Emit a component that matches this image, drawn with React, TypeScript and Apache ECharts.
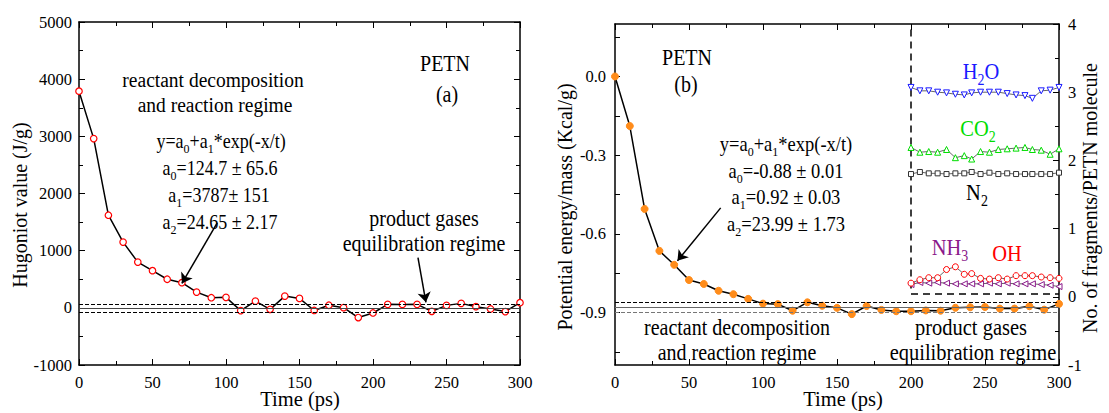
import React, { useEffect, useRef } from "react";
import * as echarts from "echarts";

const FF = "Liberation Serif";

// Panel (a): Hugoniot value vs time
const times = [0, 10, 20, 30, 40, 50, 60, 70, 80, 90, 100, 110, 120, 130, 140, 150, 160, 170, 180, 190, 200, 210, 220, 230, 240, 250, 260, 270, 280, 290, 300];
const hugoniot = [3790, 2960, 1620, 1150, 800, 650, 500, 440, 275, 177, 183, -49, 118, -26, 205, 165, -46, 45, 3, -170, -90, 61, 60, 61, -61, 43, 78, 20, -20, -66, 90];
const hugoniotRefs = [70, 0, -80];

// Panel (b): potential energy vs time
const energy = [0, -0.189, -0.505, -0.665, -0.718, -0.776, -0.791, -0.817, -0.83, -0.848, -0.866, -0.868, -0.893, -0.861, -0.874, -0.882, -0.906, -0.875, -0.89, -0.895, -0.895, -0.892, -0.893, -0.882, -0.88, -0.879, -0.885, -0.885, -0.876, -0.889, -0.867];
const energyRefs = [-0.86, -0.88, -0.9];
const energyTicks = [-0.9, -0.6, -0.3, 0];
const energyMinorTicks = [-1.05, -0.9, -0.75, -0.6, -0.45, -0.3, -0.15, 0, 0.15];

// Inset: fragments per PETN molecule
const insetTimes = [200, 206, 212, 218, 224, 230, 236, 241, 247, 253, 259, 265, 271, 277, 282, 288, 294, 300];
const h2o = [3.07, 3.02, 3.02, 3.0, 2.99, 2.97, 2.96, 2.99, 3.0, 3.0, 3.0, 2.98, 2.96, 2.95, 2.91, 3.02, 3.03, 3.07];
const co2 = [2.19, 2.12, 2.13, 2.12, 2.16, 2.04, 2.07, 2.02, 2.13, 2.12, 2.16, 2.17, 2.18, 2.19, 2.16, 2.15, 2.09, 2.17];
const n2 = [1.8, 1.83, 1.81, 1.81, 1.8, 1.81, 1.81, 1.83, 1.8, 1.82, 1.8, 1.81, 1.8, 1.8, 1.8, 1.8, 1.8, 1.82];
const nh3 = [0.18, 0.21, 0.2, 0.21, 0.2, 0.19, 0.19, 0.19, 0.19, 0.2, 0.19, 0.2, 0.19, 0.19, 0.19, 0.18, 0.17, 0.15];
const oh = [0.2, 0.25, 0.28, 0.28, 0.4, 0.44, 0.33, 0.34, 0.27, 0.26, 0.28, 0.26, 0.31, 0.31, 0.31, 0.29, 0.28, 0.27];

const zip = (xs: number[], ys: number[]) => xs.map((x, i) => [x, ys[i]]);

function rich(s: string) {
  let out = "";
  let buf = "";
  for (let i = 0; i < s.length; i++) {
    if (s[i] === "_") {
      if (buf) { out += `{n|${buf}}`; buf = ""; }
      out += `{s|${s[i + 1]}}`;
      i++;
    } else buf += s[i];
  }
  if (buf) out += `{n|${buf}}`;
  return out;
}

function txt(x: number, y: number, s: string, color = "#000", size = 20, rotation = 0, scaleY = 1.12) {
  const ss = Math.round(size * 0.66);
  const hasSub = s.indexOf("_") >= 0;
  const lh = hasSub ? size + 8 : size + 2;
  return {
    type: "text",
    x,
    y,
    rotation,
    scaleY,
    silent: true,
    style: {
      text: rich(s),
      align: "center",
      verticalAlign: "middle",
      textAlign: "center",
      textVerticalAlign: "middle",
      rich: {
        n: { fontFamily: FF, fontSize: size, lineHeight: lh, fill: color, color, verticalAlign: "middle" },
        s: { fontFamily: FF, fontSize: ss, lineHeight: ss + 2, fill: color, color, verticalAlign: "bottom" },
      },
    },
  };
}

const axisLine = { onZero: false, lineStyle: { color: "#000", width: 1.5 } };
const tickStyle = { color: "#000", width: 1 };
const labelStyle = { fontFamily: FF, fontSize: 16.5, color: "#000" };
const plain = (v: number) => String(v);

function xAxes(grid: number) {
  const base = {
    gridIndex: grid,
    type: "value",
    min: 0,
    max: 300,
    interval: 50,
    axisLine,
    axisTick: { inside: true, length: 6, lineStyle: tickStyle },
    minorTick: { show: true, splitNumber: 2, length: 4, lineStyle: tickStyle },
    splitLine: { show: false },
  };
  return [
    { ...base, position: "bottom", axisLabel: { ...labelStyle, margin: 9, formatter: plain } },
    { ...base, position: "top", axisLabel: { show: false } },
  ];
}

export default function App() {
  const ref = useRef<HTMLDivElement>(null);
  useEffect(() => {
    document.body.style.margin = "0";
    const chart = echarts.init(ref.current!, null, { renderer: "svg" });
    const dashBlack = { type: "dashed", color: "#000", width: 1 };
    const hMarks = [
      { yAxis: hugoniotRefs[0], lineStyle: dashBlack },
      { yAxis: hugoniotRefs[1], lineStyle: { type: "solid", color: "#444", width: 1 } },
      { yAxis: hugoniotRefs[2], lineStyle: dashBlack },
      [{ coord: [94, 1487], symbol: "none" }, { coord: [70, 426], symbol: "arrow", symbolSize: 10 }],
      [{ coord: [230.6, 878], symbol: "none" }, { coord: [236, 96], symbol: "arrow", symbolSize: 10 }],
    ];
    const eMarks = [
      { yAxis: energyRefs[0], lineStyle: dashBlack },
      { yAxis: energyRefs[1], lineStyle: { type: "solid", color: "#666", width: 1 } },
      { yAxis: energyRefs[2], lineStyle: { type: "dashed", color: "#777", width: 1 } },
      [{ coord: [71.4, -0.501], symbol: "none" }, { coord: [42.2, -0.703], symbol: "arrow", symbolSize: 10 }],
    ];
    const boxMarks = [
      [{ coord: [200, 3.92] }, { coord: [200, 0.05] }],
      [{ coord: [200, 0.05] }, { coord: [300, 0.05] }],
    ];
    const inset = (name: string, ys: number[], color: string, symbol: string, rot = 0, extra: any = {}) => ({
      name,
      type: "line",
      xAxisIndex: 2,
      yAxisIndex: 3,
      data: zip(insetTimes, ys),
      symbol,
      symbolRotate: rot,
      symbolSize: 6,
      showAllSymbol: true,
      itemStyle: { color: "#fff", borderColor: color, borderWidth: 1 },
      lineStyle: { color: "#222", width: 0.7 },
      z: 5,
      ...extra,
    });
    const option: any = {
      animation: false,
      textStyle: { fontFamily: FF },
      grid: [
        { left: 79, top: 22, width: 441, height: 343 },
        { left: 615, top: 24, width: 444, height: 341 },
      ],
      xAxis: [...xAxes(0), ...xAxes(1)],
      yAxis: [
        {
          gridIndex: 0, type: "value", position: "left", min: -1000, max: 5000, interval: 1000,
          axisLine, axisTick: { inside: true, length: 6, lineStyle: tickStyle },
          minorTick: { show: true, splitNumber: 2, length: 4, lineStyle: tickStyle },
          axisLabel: { ...labelStyle, margin: 7, formatter: plain }, splitLine: { show: false },
        },
        {
          gridIndex: 0, type: "value", position: "right", min: -1000, max: 5000, interval: 1000,
          axisLine, axisTick: { inside: true, length: 6, lineStyle: tickStyle },
          minorTick: { show: true, splitNumber: 2, length: 4, lineStyle: tickStyle },
          axisLabel: { show: false }, splitLine: { show: false },
        },
        {
          gridIndex: 1, type: "value", position: "left", min: -1.1, max: 0.2,
          axisLine,
          axisTick: { inside: true, length: 5, lineStyle: tickStyle, customValues: energyMinorTicks },
          axisLabel: { ...labelStyle, margin: 9, customValues: energyTicks, formatter: (v: number) => v.toFixed(1) },
          splitLine: { show: false },
        },
        {
          gridIndex: 1, type: "value", position: "right", min: -1, max: 4, interval: 1,
          axisLine, axisTick: { inside: true, length: 6, lineStyle: tickStyle },
          minorTick: { show: true, splitNumber: 2, length: 4, lineStyle: tickStyle },
          axisLabel: { ...labelStyle, margin: 9, formatter: plain }, splitLine: { show: false },
        },
      ],
      series: [
        {
          name: "Hugoniot",
          type: "line",
          xAxisIndex: 0,
          yAxisIndex: 0,
          data: zip(times, hugoniot),
          symbol: "circle",
          symbolSize: 6.5,
          showAllSymbol: true,
          itemStyle: { color: "#fff", borderColor: "#ff0000", borderWidth: 1.2 },
          lineStyle: { color: "#000", width: 1.5 },
          markLine: {
            silent: true, symbol: "none", label: { show: false }, animation: false,
            lineStyle: { color: "#000", width: 1.5, type: "solid" },
            data: hMarks,
          },
          z: 4,
        },
        {
          name: "Energy",
          type: "line",
          xAxisIndex: 2,
          yAxisIndex: 2,
          data: zip(times, energy),
          symbol: "circle",
          symbolSize: 7,
          showAllSymbol: true,
          itemStyle: { color: "#ff8c1a", borderColor: "#ff8c1a", borderWidth: 1 },
          lineStyle: { color: "#000", width: 1.5 },
          markLine: {
            silent: true, symbol: "none", label: { show: false }, animation: false,
            lineStyle: { color: "#000", width: 1.5, type: "solid" },
            data: eMarks,
          },
          z: 4,
        },
        inset("H2O", h2o, "#1a1aff", "triangle", 180, {
          markLine: {
            silent: true, symbol: "none", label: { show: false }, animation: false,
            lineStyle: { color: "#000", width: 1.5, type: [7, 5] },
            data: boxMarks,
          },
        }),
        inset("CO2", co2, "#00dd00", "triangle"),
        inset("N2", n2, "#333", "rect", 0, { symbolSize: 5 }),
        inset("NH3", nh3, "#8b1a8b", "triangle", 90),
        inset("OH", oh, "#ff0000", "circle"),
      ],
      graphic: [
        txt(20, 205, "Hugoniot value (J/g)", "#000", 20, Math.PI / 2, 1.1),
        txt(300, 399, "Time (ps)", "#000", 20.5, 0, 1.05),
        txt(445, 64, "PETN"),
        txt(447, 95, "(a)"),
        txt(213, 80, "reactant decomposition", "#000", 19.5),
        txt(215, 105, "and reaction regime", "#000", 19.5),
        txt(221, 141, "y=a_0+a_1*exp(-x/t)", "#000", 18),
        txt(220, 168, "a_0=124.7 ± 65.6", "#000", 18),
        txt(219, 195, "a_1=3787± 151", "#000", 18),
        txt(220, 222, "a_2=24.65 ± 2.17", "#000", 18),
        txt(424, 219, "product gases", "#000", 20),
        txt(424, 244, "equilibration regime", "#000", 20),

        txt(565, 207, "Potential energy/mass (Kcal/g)", "#000", 20, Math.PI / 2, 1.1),
        txt(1090, 198, "No. of fragments/PETN molecule", "#000", 20, Math.PI / 2, 1.1),
        txt(843, 399, "Time (ps)", "#000", 20.5, 0, 1.05),
        txt(687, 58, "PETN"),
        txt(686, 85, "(b)"),
        txt(786, 144, "y=a_0+a_1*exp(-x/t)", "#000", 18.5),
        txt(786, 171, "a_0=-0.88 ± 0.01", "#000", 18.5),
        txt(786, 197, "a_1=0.92 ± 0.03", "#000", 18.5),
        txt(786, 224, "a_2=23.99 ± 1.73", "#000", 18.5),
        txt(737, 328, "reactant decomposition", "#000", 20),
        txt(737, 353, "and reaction regime", "#000", 20),
        txt(971, 328, "product gases", "#000", 20.5),
        txt(973, 353, "equilibration regime", "#000", 20.5),

        txt(981, 72, "H_2O", "#1a1aff", 20.5),
        txt(978, 129, "CO_2", "#00dd00", 20.5),
        txt(977, 193, "N_2", "#000", 20.5),
        txt(950, 248, "NH_3", "#8b1a8b", 20.5),
        txt(1007, 254, "OH", "#ff0000", 20.5),
      ],
    };
    chart.setOption(option);
    return () => chart.dispose();
  }, []);
  return <div ref={ref} style={{ width: 1109, height: 413 }} />;
}
